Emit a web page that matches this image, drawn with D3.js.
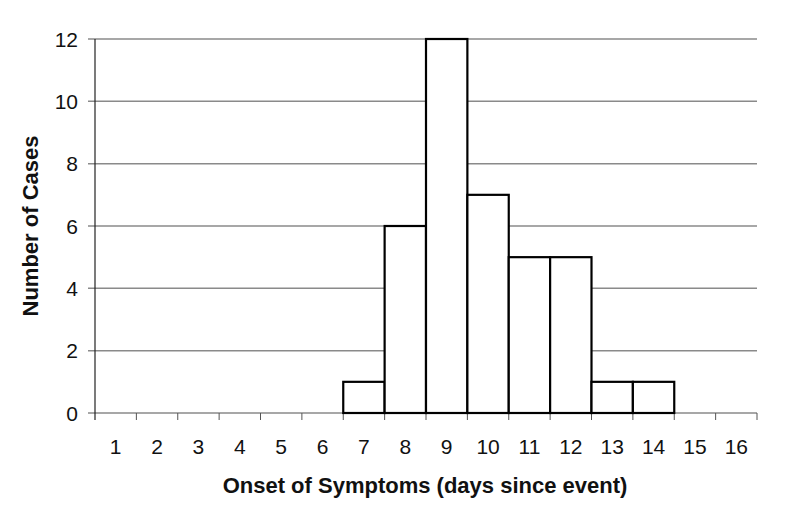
<!DOCTYPE html>
<html><head><meta charset="utf-8">
<script src="https://cdn.jsdelivr.net/npm/d3@7"></script>
<style>html,body{margin:0;padding:0;background:#fff;}</style>
</head><body>
<svg id="chart" width="787" height="508"></svg>
<script>
const categories = ["1","2","3","4","5","6","7","8","9","10","11","12","13","14","15","16"];
const cases = [0,0,0,0,0,0,1,6,12,7,5,5,1,1,0,0];
const yTicks = [0,2,4,6,8,10,12];
const xTitle = "Onset of Symptoms (days since event)";
const yTitle = "Number of Cases";

const svg = d3.select("#chart");
const pLeft = 95, pRight = 757, pTop = 39, pBottom = 413;
const font = "'Liberation Sans', Arial, Helvetica, sans-serif";

const x = d3.scaleBand().domain(categories).range([pLeft, pRight]).padding(0);
const y = d3.scaleLinear().domain([0, 12]).range([pBottom, pTop]);

// gridlines
svg.append("g").selectAll("line").data(yTicks).join("line")
  .attr("x1", pLeft - 7).attr("x2", pRight)
  .attr("y1", d => y(d)).attr("y2", d => y(d))
  .attr("stroke", "#8a8a8a").attr("stroke-width", 1.5);

// y tick labels
svg.append("g").selectAll("text").data(yTicks).join("text")
  .attr("x", 78).attr("y", d => y(d)).attr("dy", "0.36em")
  .attr("text-anchor", "end").attr("font-family", font).attr("font-size", 21)
  .attr("fill", "#111").text(d => d);

// x tick marks at boundaries
const bounds = categories.map(c => x(c)).concat([pRight]);
svg.append("g").selectAll("line").data(bounds.slice(1)).join("line")
  .attr("x1", d => d).attr("x2", d => d)
  .attr("y1", pBottom).attr("y2", pBottom + 7)
  .attr("stroke", "#555").attr("stroke-width", 1);

// y axis line
svg.append("line").attr("x1", pLeft).attr("x2", pLeft)
  .attr("y1", pTop).attr("y2", pBottom + 7)
  .attr("stroke", "#222").attr("stroke-width", 1.2);

// bars
svg.append("g").selectAll("rect").data(categories.map((c, i) => ({c, v: cases[i]})).filter(d => d.v > 0)).join("rect")
  .attr("x", d => x(d.c)).attr("width", x.bandwidth())
  .attr("y", d => y(d.v)).attr("height", d => y(0) - y(d.v))
  .attr("fill", "#fff").attr("stroke", "#000").attr("stroke-width", 2.2);

// x labels
svg.append("g").selectAll("text").data(categories).join("text")
  .attr("x", d => x(d) + x.bandwidth() / 2).attr("y", 446).attr("dy", "0.36em")
  .attr("text-anchor", "middle").attr("font-family", font).attr("font-size", 21)
  .attr("fill", "#111").text(d => d);

// titles
svg.append("text").attr("x", 425).attr("y", 485).attr("dy", "0.36em")
  .attr("text-anchor", "middle").attr("font-family", font).attr("font-size", 22)
  .attr("font-weight", "bold").attr("fill", "#111").text(xTitle);

svg.append("text").attr("transform", "translate(30,226) rotate(-90)").attr("dy", "0.36em")
  .attr("text-anchor", "middle").attr("font-family", font).attr("font-size", 22)
  .attr("font-weight", "bold").attr("fill", "#111").text(yTitle);
</script>
</body></html>
